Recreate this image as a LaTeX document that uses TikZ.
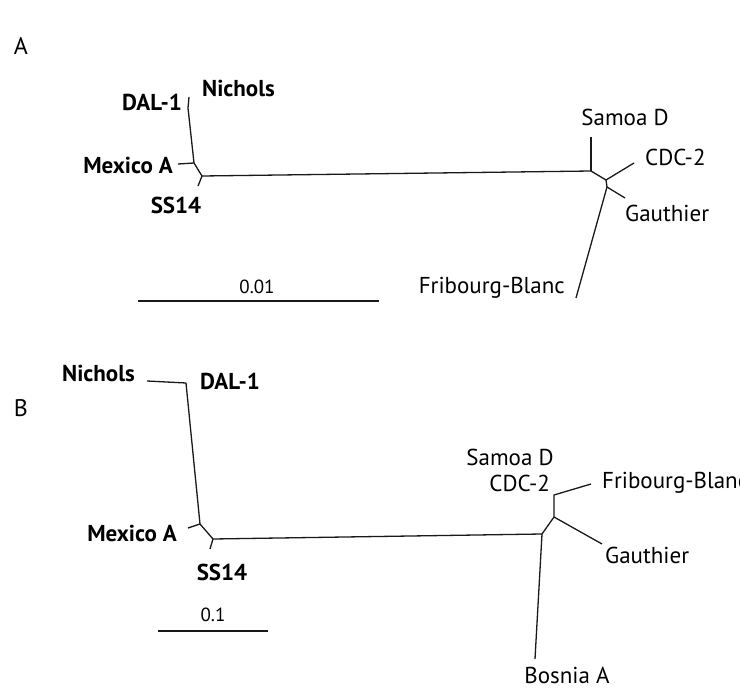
\documentclass[tikz,border=0pt]{standalone}
\usepackage{fontspec}
\setmainfont{PT Sans}
\usepackage{xcolor}
\usepackage{tikz}
\usetikzlibrary{positioning, calc}
\definecolor{branchgray}{RGB}{25,25,25}

\begin{document}
\begin{tikzpicture}[
    x=1pt, y=-1pt,
    taxon/.style={inner sep=0pt, font=\fontsize{23}{26}\selectfont},
    btaxon/.style={taxon, font=\fontsize{23}{26}\selectfont\bfseries},
    panel/.style={inner sep=0pt, font=\fontsize{24}{27}\selectfont},
    scalelab/.style={inner sep=0pt, font=\fontsize{19}{22}\selectfont},
    br/.style={draw=branchgray, line width=1.3pt, line join=round}
]
\useasboundingbox (0,0) rectangle (740,688);

% ---- panel A ----
\node[panel] (pA) at (21,46) {A};
\coordinate (aDal) at (189,97);
\coordinate (aN1) at (188,108);
\coordinate (aN2) at (194,163);
\coordinate (aMex) at (178,164);
\coordinate (aN3) at (202,176);
\coordinate (aSS) at (198,186);
\coordinate (aN4) at (591,171);
\coordinate (aSam) at (591,137);
\coordinate (aN5) at (606,180);
\coordinate (aCdc) at (634,163);
\coordinate (aN6) at (607,187);
\coordinate (aGau) at (625,198);
\coordinate (aFri) at (576,298);

\draw[br] (aDal) -- (aN1) -- (aN2) -- (aN3) -- (aN4);
\draw[br] (aN2) -- (aMex);
\draw[br] (aN3) -- (aSS);
\draw[br] (aN4) -- (aSam);
\draw[br] (aN4) -- (aN5) -- (aCdc);
\draw[br] (aN5) -- (aN6) -- (aGau);
\draw[br] (aN6) -- (aFri);

\node[btaxon, anchor=east] (aDalL) at (182,102) {DAL-1};
\node[btaxon, anchor=west] (aNicL) at (202,88) {Nichols};
\node[btaxon, anchor=east] (aMexL) at (173,165) {Mexico A};
\node[btaxon] (aSSL) at (176,205) {SS14};
\node[taxon] (aSamL) at (625,117) {Samoa D};
\node[taxon, anchor=west] (aCdcL) at (645,157) {CDC-2};
\node[taxon, anchor=west] (aGauL) at (625,213) {Gauthier};
\node[taxon, anchor=east] (aFriL) at (565,288) {Fribourg-Blanc};

\coordinate (aBar1) at (138,301);
\coordinate (aBar2) at (379,301);
\draw[br] (aBar1) -- (aBar2);
\node[scalelab] (aBarL) at (257,287) {0.01};

% ---- panel B ----
\node[panel] (pB) at (21,408) {B};
\coordinate (bNic) at (147,381);
\coordinate (bN1) at (186,383);
\coordinate (bN2) at (200,524);
\coordinate (bMex) at (188,528);
\coordinate (bN3) at (213,539);
\coordinate (bSS) at (210,549);
\coordinate (bN4) at (542,534);
\coordinate (bBos) at (535,659);
\coordinate (bN5) at (554,517);
\coordinate (bGau) at (602,544);
\coordinate (bN6) at (554,495);
\coordinate (bFri) at (591,484);

\draw[br] (bNic) -- (bN1) -- (bN2) -- (bN3) -- (bN4);
\draw[br] (bN2) -- (bMex);
\draw[br] (bN3) -- (bSS);
\draw[br] (bN4) -- (bBos);
\draw[br] (bN4) -- (bN5) -- (bGau);
\draw[br] (bN5) -- (bN6) -- (bFri);

\node[btaxon, anchor=east] (bNicL) at (135,373) {Nichols};
\node[btaxon, anchor=west] (bDalL) at (200,381) {DAL-1};
\node[btaxon, anchor=east] (bMexL) at (177,533) {Mexico A};
\node[btaxon] (bSSL) at (222,572) {SS14};
\node[taxon] (bSamL) at (510,457) {Samoa D};
\node[taxon, anchor=east] (bCdcL) at (550,483) {CDC-2};
\node[taxon, anchor=west] (bFriL) at (602,483) {Fribourg-Blanc};
\node[taxon, anchor=west] (bGauL) at (605,555) {Gauthier};
\node[taxon] (bBosL) at (567,675) {Bosnia A};

\coordinate (bBar1) at (158,631);
\coordinate (bBar2) at (268,631);
\draw[br] (bBar1) -- (bBar2);
\node[scalelab] (bBarL) at (213,615) {0.1};
\end{tikzpicture}
\end{document}
